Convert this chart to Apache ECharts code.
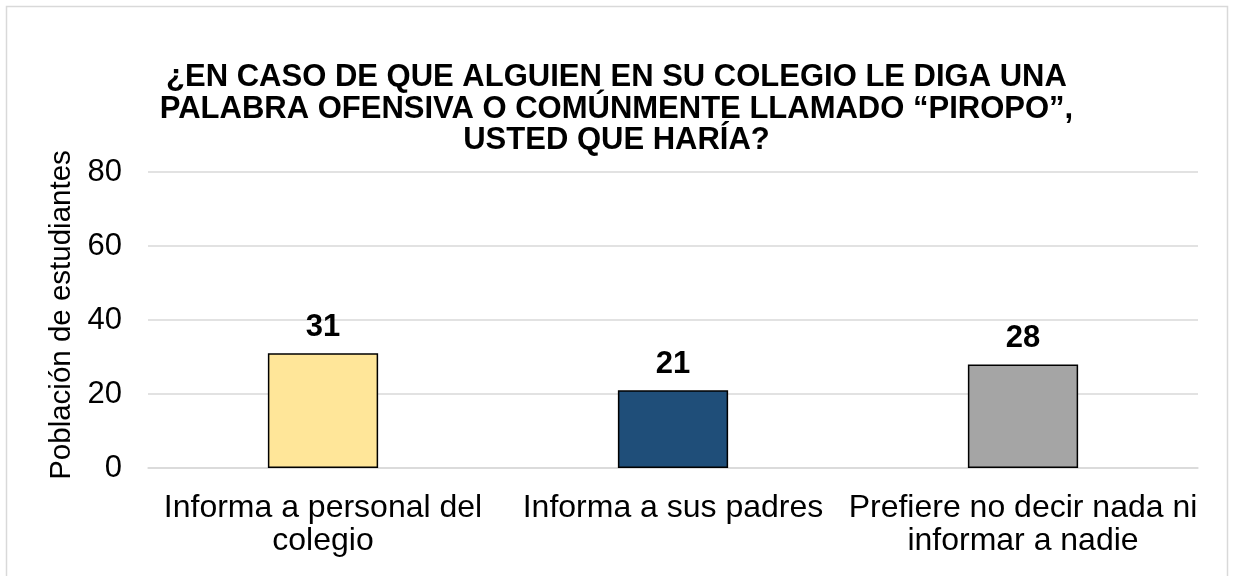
<!DOCTYPE html>
<html>
<head>
<meta charset="utf-8">
<script src="https://cdn.jsdelivr.net/npm/echarts@6/dist/echarts.min.js"></script>
<style>
  html, body { margin: 0; padding: 0; background: #fff; }
  #chart { width: 1233px; height: 576px; }
</style>
</head>
<body>
<div id="chart"></div>
<script>
const titleText = '¿EN CASO DE QUE ALGUIEN EN SU COLEGIO LE DIGA UNA\nPALABRA OFENSIVA O COMÚNMENTE LLAMADO “PIROPO”,\nUSTED QUE HARÍA?'
const categories = ['Informa a personal del\ncolegio', 'Informa a sus padres', 'Prefiere no decir nada ni\ninformar a nadie']
const values = [31, 21, 28]
const barColors = ['#FFE699', '#1F4E79', '#A5A5A5']
const yTicks = [0, 20, 40, 60, 80]

const chart = echarts.init(document.getElementById('chart'))
const font = 'Liberation Sans, Arial, sans-serif'

chart.setOption({
  animation: false,
  backgroundColor: '#fff',
  graphic: [{
    type: 'rect',
    shape: { x: 6.5, y: 6.5, width: 1221, height: 600 },
    style: { fill: 'none', stroke: '#d9d9d9', lineWidth: 1.5 },
    silent: true
  }],
  title: {
    text: titleText,
    left: 'center',
    top: 57,
    textStyle: {
      fontFamily: font,
      fontWeight: 'bold',
      fontSize: 31,
      lineHeight: 31.5,
      color: '#000'
    }
  },
  grid: { left: 148, right: 35, top: 172, bottom: 108 },
  xAxis: {
    type: 'category',
    data: categories,
    axisLine: { lineStyle: { color: '#d9d9d9', width: 1.5 } },
    axisTick: { show: false },
    axisLabel: {
      color: '#000',
      fontFamily: font,
      fontSize: 32,
      lineHeight: 33,
      margin: 24,
      interval: 0
    }
  },
  yAxis: {
    type: 'value',
    min: yTicks[0],
    max: yTicks[yTicks.length - 1],
    interval: 20,
    name: 'Población de estudiantes',
    nameLocation: 'middle',
    nameGap: 60,
    nameTextStyle: { color: '#000', fontFamily: font, fontSize: 29.5, padding: [0, 0, 0, 10] },
    axisLine: { show: false },
    axisTick: { show: false },
    axisLabel: { color: '#000', fontFamily: font, fontSize: 31, margin: 26 },
    splitLine: { lineStyle: { color: '#d9d9d9', width: 1.5 } }
  },
  series: [{
    type: 'bar',
    data: values.map((v, i) => ({ value: v, itemStyle: { color: barColors[i] } })),
    barWidth: '31.5%',
    itemStyle: { borderColor: '#000', borderWidth: 1.5 },
    label: {
      show: true,
      position: 'top',
      distance: 10,
      color: '#000',
      fontFamily: font,
      fontWeight: 'bold',
      fontSize: 31
    }
  }]
})
</script>
</body>
</html>
